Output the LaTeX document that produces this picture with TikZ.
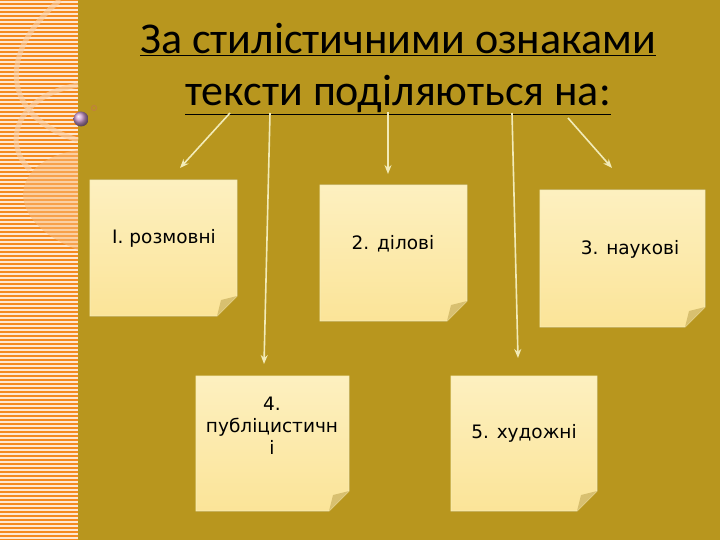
\documentclass[tikz,border=0pt]{standalone}
\usepackage{fontspec}
\usetikzlibrary{arrows.meta}
\setmainfont{Carlito}
\newfontfamily\labfont{DejaVu Sans}
\begin{document}
\begin{tikzpicture}[x=1pt,y=-1pt,
  note/.style={top color=notet,bottom color=notec,draw=noteb,line width=0.8pt},
  lab/.style={font=\labfont\fontsize{18.5}{22}\selectfont,align=center,text=black},
  arr/.style={draw=arrc,line width=1.6pt,-{Stealth[length=9pt,width=7pt]}}]
\definecolor{bg}{HTML}{B8961E}
\definecolor{orng}{HTML}{F58A1E}
\definecolor{notec}{HTML}{FBE498}
\definecolor{notet}{HTML}{FDF0C0}
\definecolor{noteb}{HTML}{F8EEB8}
\definecolor{arrc}{HTML}{F2EBB8}
\definecolor{fold}{HTML}{D8C070}
\useasboundingbox (0,0) rectangle (720,540);
\fill[bg] (0,0) rectangle (720,540);
\fill[orng] (0,0) rectangle (78,540);
\foreach \y in {2,6,...,540} \draw[white!80!orng,line width=1.2pt] (0,\y) -- (78,\y);
\draw[white!60!orng,line width=5pt,opacity=0.6] (60,0) .. controls (-10,60) and (10,120) .. (78,140);
\draw[white!60!orng,line width=5pt,opacity=0.6] (78,85) .. controls (20,95) and (0,140) .. (30,170);
\fill[white!40!orng,opacity=0.5] (78,150) .. controls (10,160) and (0,220) .. (78,250) -- cycle;
\shade[ball color=violet!40!white] (81,119) circle (7.5);
\draw[brown,line width=1pt] (94,108) circle (2.5);
% title
\node[font=\fontsize{44}{48}\selectfont,text=black] (t1) at (398,40) {\underline{За стилістичними ознаками}};
\node[font=\fontsize{44}{48}\selectfont,text=black] (t2) at (398,95) {\underline{тексти поділяються на:}};
% notes
\foreach \n/\a/\b/\c/\d in {1/90/180/237/316,2/320/185/467/321,3/540/190/705/327,4/196/376/349/511,5/451/376/597/511}{
  \fill[note] (\a,\b) -- (\c,\b) -- (\c,\d-20) -- (\c-20,\d) -- (\a,\d) -- cycle;
  \fill[fold] (\c,\d-20) -- (\c-20,\d) -- (\c-16,\d-16) -- cycle;
  \coordinate (n\n) at ({(\a+\c)/2},{(\b+\d)/2});
}
\node[lab] (l1) at (164,238) {I. розмовні};
\node[lab] (l2) at (393,244) {2. ділові};
\node[lab] (l3) at (630,249) {3. наукові};
\node[lab] (l4) at (272,426) {4.\\публіцистичн\\і};
\node[lab] (l5) at (524,433) {5. художні};
\coordinate (s1) at (230,113); \coordinate (e1) at (180,168);
\coordinate (s2) at (270,113); \coordinate (e2) at (264,364);
\coordinate (s3) at (388,112); \coordinate (e3) at (388,174);
\coordinate (s4) at (512,113); \coordinate (e4) at (518,358);
\coordinate (s5) at (568,118); \coordinate (e5) at (612,168);
\foreach \i in {1,...,5} \draw[arr] (s\i) -- (e\i);
\end{tikzpicture}
\end{document}
